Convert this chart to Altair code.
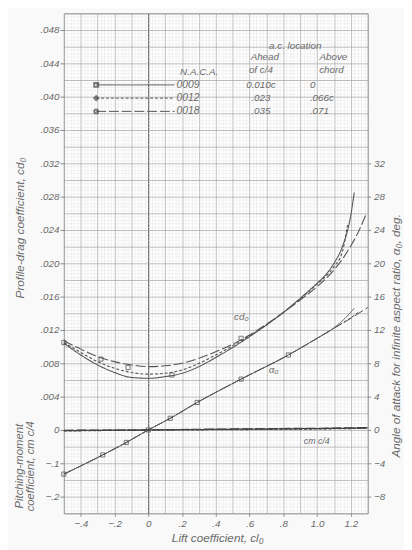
import altair as alt
import pandas as pd

# ---------------- data ----------------
series = ["0009", "0012", "0018"]
dashes = [[1, 0], [3, 2], [10, 3]]
shapes = ["square", "diamond", "circle"]
ac_ahead = ["0.010c", ".023", ".035"]
ac_above = ["0", ".066c", ".071"]

# profile-drag coefficient vs lift coefficient
cl_cd_0009 = [-0.5, -0.4, -0.3, -0.2, -0.1, 0.0, 0.1, 0.2, 0.3, 0.4, 0.5, 0.6, 0.7, 0.8, 0.9, 1.0, 1.05, 1.1, 1.15, 1.2, 1.22]
cd_0009 = [0.0104, 0.0090, 0.0078, 0.0069, 0.0063, 0.0062, 0.0064, 0.0068, 0.0076, 0.0087, 0.0099, 0.0112, 0.0126, 0.0141, 0.0158, 0.0176, 0.0186, 0.0200, 0.0220, 0.0258, 0.0285]
cl_cd_0012 = [-0.5, -0.4, -0.3, -0.2, -0.1, 0.0, 0.1, 0.2, 0.3, 0.4, 0.5, 0.6, 0.7, 0.8, 0.9, 1.0, 1.05, 1.1, 1.15, 1.18]
cd_0012 = [0.0105, 0.0093, 0.0082, 0.0074, 0.0069, 0.0067, 0.0068, 0.0072, 0.0080, 0.0090, 0.0101, 0.0113, 0.0126, 0.0141, 0.0157, 0.0175, 0.0184, 0.0196, 0.0214, 0.0246]
cl_cd_0018 = [-0.5, -0.4, -0.3, -0.2, -0.1, 0.0, 0.1, 0.2, 0.3, 0.4, 0.5, 0.6, 0.7, 0.8, 0.9, 1.0, 1.1, 1.15, 1.2, 1.25, 1.29]
cd_0018 = [0.0107, 0.0097, 0.0088, 0.0082, 0.0078, 0.0076, 0.0077, 0.0080, 0.0086, 0.0094, 0.0103, 0.0114, 0.0127, 0.0141, 0.0156, 0.0172, 0.0192, 0.0205, 0.0221, 0.0240, 0.0259]

# angle of attack for infinite aspect ratio (deg)
cl_a_0009 = [-0.5, -0.27, -0.13, 0.0, 0.13, 0.29, 0.55, 0.83, 1.0, 1.09, 1.15, 1.22]
a_0009 = [-5.3, -3.0, -1.5, 0.0, 1.4, 3.3, 6.1, 9.0, 11.0, 12.1, 13.1, 14.6]
cl_a_0012 = [-0.5, -0.27, -0.13, 0.0, 0.13, 0.29, 0.55, 0.83, 1.0, 1.09, 1.18, 1.25]
a_0012 = [-5.3, -3.0, -1.5, 0.0, 1.4, 3.3, 6.1, 9.0, 11.0, 12.1, 13.2, 14.2]
cl_a_0018 = [-0.5, -0.27, -0.13, 0.0, 0.13, 0.29, 0.55, 0.83, 1.0, 1.09, 1.2, 1.3]
a_0018 = [-5.3, -3.0, -1.5, 0.0, 1.4, 3.3, 6.1, 9.0, 11.0, 12.1, 13.4, 14.7]

# pitching-moment coefficient about quarter chord
cl_cm = [-0.5, 0.0, 0.5, 1.0, 1.3]
cm_0009 = [-0.002, 0.0, 0.002, 0.004, 0.006]
cm_0012 = [-0.003, 0.0, 0.001, 0.003, 0.005]
cm_0018 = [-0.001, 0.0, 0.003, 0.005, 0.007]

# test points
mark_a_cl = [-0.5, -0.27, -0.13, 0.0, 0.13, 0.29, 0.55, 0.83]
mark_a_val = [-5.3, -3.0, -1.5, 0.0, 1.4, 3.3, 6.1, 9.0]
mark_cd_cl = [-0.5, -0.28, -0.12, 0.14, 0.55]
mark_cd_val = [0.0105, 0.0085, 0.0075, 0.0066, 0.0110]

# axis tick values (graph-paper rulings)
a_labels = [-8, -4, 0, 4, 8, 12, 16, 20, 24, 28, 32]
x_ruling = [round(-0.5 + 0.02 * i, 3) for i in range(91)]
y_ruling = [round(-0.01 + 0.0004 * i, 5) for i in range(151)]

# ---------------- frames ----------------
def frame(cls, vals, name, col):
    return pd.DataFrame({"cl": cls, col: vals, "series": name})

df_cd = pd.concat([frame(cl_cd_0009, cd_0009, "0009", "cd"),
                   frame(cl_cd_0012, cd_0012, "0012", "cd"),
                   frame(cl_cd_0018, cd_0018, "0018", "cd")])
df_a = pd.concat([frame(cl_a_0009, a_0009, "0009", "a"),
                  frame(cl_a_0012, a_0012, "0012", "a"),
                  frame(cl_a_0018, a_0018, "0018", "a")])
df_cm = pd.concat([frame(cl_cm, cm_0009, "0009", "cm"),
                   frame(cl_cm, cm_0012, "0012", "cm"),
                   frame(cl_cm, cm_0018, "0018", "cm")])
df_ma = pd.DataFrame({"cl": mark_a_cl, "a": mark_a_val})
df_mcd = pd.DataFrame({"cl": mark_cd_cl, "cd": mark_cd_val})

# ---------------- styling ----------------
FONT = "Liberation Sans"
TXT = "#6a6a6a"
LINE = "#555555"
MINOR = "#e4e4e4"
MAJOR = "#ababab"
ZERO = "#6a6a6a"

xs = alt.Scale(domain=[-0.5, 1.3], nice=False, zero=False)
ys_cd = alt.Scale(domain=[-0.01, 0.05], nice=False, zero=False)
ys_a = alt.Scale(domain=[-10, 50], nice=False, zero=False)
ys_cm = alt.Scale(domain=[-0.25, 1.25], nice=False, zero=False)
dash_scale = alt.Scale(domain=series, range=dashes)

# tests on axis values
x_zero = "abs(datum.value) < 1e-9"
x_major = "abs(datum.value * 10 - round(datum.value * 10)) < 1e-6"
x_label = "abs(datum.value * 5 - round(datum.value * 5)) < 1e-6 && datum.value > -0.45 && datum.value < 1.25"
y_major = "abs(datum.value * 500 - round(datum.value * 500)) < 1e-6"
y_label = "abs(datum.value * 250 - round(datum.value * 250)) < 1e-6 && datum.value > -0.009 && datum.value < 0.049"

x_axis = alt.Axis(
    values=x_ruling, grid=True, domain=False, title=None,
    gridColor={"condition": [{"test": x_zero, "value": ZERO}, {"test": x_major, "value": MAJOR}], "value": MINOR},
    gridWidth={"condition": [{"test": x_zero, "value": 1.3}, {"test": x_major, "value": 0.8}], "value": 0.5},
    tickSize=3, tickColor="#888",
    tickOpacity={"condition": {"test": x_label, "value": 1}, "value": 0},
    labelExpr="(" + x_label + ") ? (abs(datum.value) < 1e-9 ? '0' : replace(format(datum.value, '.1f'), '0.', '.')) : ''",
    labelOverlap=False, labelFlush=False,
    labelFont=FONT, labelFontStyle="italic", labelFontSize=10, labelColor=TXT, labelPadding=2,
)
y_axis = alt.Axis(
    values=y_ruling, grid=True, domain=False, title=None,
    gridColor={"condition": {"test": y_major, "value": MAJOR}, "value": MINOR},
    gridWidth={"condition": {"test": y_major, "value": 0.8}, "value": 0.5},
    tickSize=4, tickColor="#888",
    tickOpacity={"condition": {"test": y_label, "value": 1}, "value": 0},
    labelExpr="(" + y_label + ") ? (datum.value > 0.001 ? replace(format(datum.value, '.3f'), '0.', '.') : "
              "(abs(datum.value) < 0.001 ? '0' : replace(format(datum.value * 25, '.1f'), '0.', '.'))) : ''",
    labelOverlap=False, labelFlush=False,
    labelFont=FONT, labelFontStyle="italic", labelFontSize=10, labelColor=TXT, labelPadding=1,
)

cd_lines = alt.Chart(df_cd).mark_line(color=LINE, strokeWidth=1.1, interpolate="monotone").encode(
    x=alt.X("cl:Q", scale=xs, axis=x_axis),
    y=alt.Y("cd:Q", scale=ys_cd, axis=y_axis),
    strokeDash=alt.StrokeDash("series:N", scale=dash_scale, legend=None),
    detail="series:N",
)

a_lines = alt.Chart(df_a).mark_line(color=LINE, strokeWidth=1.0, interpolate="monotone").encode(
    x=alt.X("cl:Q", scale=xs, axis=None),
    y=alt.Y("a:Q", scale=ys_a, axis=alt.Axis(
        orient="right", values=a_labels, format="d", grid=False, domain=False,
        tickSize=3, tickColor="#888", labelFont=FONT, labelFontStyle="italic",
        labelFontSize=10, labelColor=TXT, labelPadding=3, title=None)),
    strokeDash=alt.StrokeDash("series:N", scale=dash_scale, legend=None),
    detail="series:N",
)

cm_lines = alt.Chart(df_cm).mark_line(color="#444444", strokeWidth=1.3).encode(
    x=alt.X("cl:Q", scale=xs, axis=None),
    y=alt.Y("cm:Q", scale=ys_cm, axis=None),
    strokeDash=alt.StrokeDash("series:N", scale=dash_scale, legend=None),
    detail="series:N",
)

a_marks = alt.Chart(df_ma).mark_point(shape="square", size=18, filled=False,
                                      color="#444", strokeWidth=1).encode(
    x=alt.X("cl:Q", scale=xs, axis=None),
    y=alt.Y("a:Q", scale=ys_a, axis=None),
)
cd_marks = alt.Chart(df_mcd).mark_point(shape="square", size=18, filled=False,
                                        color="#444", strokeWidth=1).encode(
    x=alt.X("cl:Q", scale=xs, axis=None),
    y=alt.Y("cd:Q", scale=ys_cd, axis=None),
)


def label(txt, x, y, size=10, angle=0, align="center"):
    return alt.Chart(pd.DataFrame({"t": [txt]})).mark_text(
        font=FONT, fontStyle="italic", fontSize=size, color=TXT,
        angle=angle, align=align, baseline="middle",
    ).encode(x=alt.value(x), y=alt.value(y), text="t:N")


texts = [
    label("Profile-drag coefficient, cd\u2080", -45, 219, size=12, angle=270),
    label("Pitching-moment", -45, 462, size=11.5, angle=270),
    label("coefficient, cm c/4", -33, 462, size=11.5, angle=270),
    label("Angle of attack for infinite aspect ratio, \u03b1\u2080, deg.", 339, 329, size=12, angle=270),
    label("Lift coefficient, cl\u2080", 157, 535, size=12),
    label("cd\u2080", 181, 310, size=10),
    label("\u03b1\u2080", 214, 364, size=10),
    label("cm c/4", 258, 436, size=9),
    label("N.A.C.A.", 138, 60, size=10),
    label("a.c. location", 236, 33, size=10),
    label("Ahead", 205, 45, size=10),
    label("Above", 275, 45, size=10),
    label("of c/4", 201, 58, size=10),
    label("chord", 273, 58, size=10),
]

legend_rows = [73, 86.5, 100]
legend_layers = []
for i, name in enumerate(series):
    y = legend_rows[i]
    legend_layers.append(
        alt.Chart(pd.DataFrame({"s": [name]})).mark_rule(
            color=LINE, strokeWidth=1, strokeDash=dashes[i]
        ).encode(x=alt.value(33), x2=alt.value(113), y=alt.value(y))
    )
    legend_layers.append(
        alt.Chart(pd.DataFrame({"s": [name]})).mark_point(
            shape=shapes[i], size=16, filled=False, color="#444"
        ).encode(x=alt.value(33), y=alt.value(y))
    )
    legend_layers.append(label(name, 115, y, size=10.5, align="left"))
    legend_layers.append(label(ac_ahead[i], 201, y, size=10))
    legend_layers.append(label(ac_above[i], 251, y, size=10, align="left"))

chart = alt.layer(
    cd_lines, a_lines, cm_lines, a_marks, cd_marks,
    *texts, *legend_layers,
).resolve_scale(
    y="independent"
).resolve_axis(
    x="independent", y="independent"
).properties(
    width=310, height=510,
    autosize=alt.AutoSizeParams(type="none"),
    padding={"left": 57, "top": 0, "right": 37, "bottom": 32},
    background="#f9f9f9",
).configure_view(
    stroke="#888888", strokeWidth=1, fill="#ffffff"
)

chart.save("out.html", embed_options={"renderer": "svg", "actions": False})
